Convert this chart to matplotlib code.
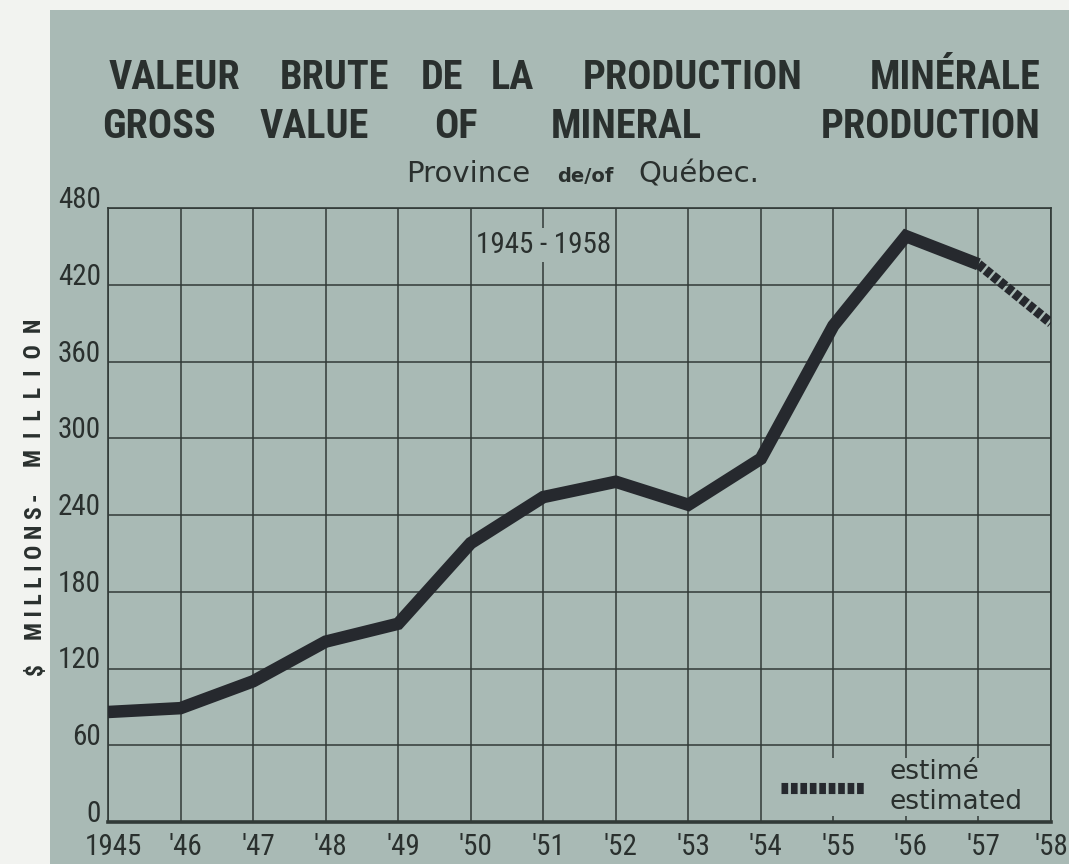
"""Gross value of mineral production, Province of Québec, 1945-1958."""

import matplotlib

matplotlib.use("Agg")
import matplotlib.pyplot as plt
from matplotlib import font_manager
from matplotlib.lines import Line2D
from matplotlib.patches import Rectangle
from matplotlib.transforms import ScaledTranslation

FIG_W_PX = 1069
FIG_H_PX = 864
DPI = 100

YEARS = [1945, 1946, 1947, 1948, 1949, 1950, 1951, 1952, 1953, 1954, 1955, 1956, 1957, 1958]
YEAR_LABELS = ["1945", "'46", "'47", "'48", "'49", "'50", "'51", "'52", "'53", "'54",
               "'55", "'56", "'57", "'58"]
# $ millions; 1957 -> 1958 is the estimated segment
VALUES = [86, 89, 110, 141, 155, 218, 254, 266, 248, 284, 388, 458, 436, 390]
LAST_ACTUAL_INDEX = 12
Y_TICKS = [0, 60, 120, 180, 240, 300, 360, 420, 480]

TITLE_FR_WORDS = ["VALEUR", "BRUTE", "DE", "LA", "PRODUCTION", "MINÉRALE"]
TITLE_EN_WORDS = ["GROSS", "VALUE", "OF", "MINERAL", "PRODUCTION"]
PERIOD_LABEL = "1945 - 1958"
LEGEND_LABEL = "estimé\nestimated"

# word centres (pixels from the left) for the two spread-out title lines
TITLE_FR_CENTERS = [174, 335, 442, 512, 693, 955]
TITLE_EN_CENTERS = [159, 314, 456, 626, 931]

PANEL = "#a9bab5"
MARGIN = "#f2f3f0"
INK = "#2a302e"
GRID = "#313a37"
LINE = "#26292e"


def pick_condensed_font() -> str:
    """Returns the first narrow sans family that is installed."""
    available = {f.name for f in font_manager.fontManager.ttflist}
    for name in ["Roboto Condensed", "Liberation Sans Narrow", "Open Sans Condensed"]:
        if name in available:
            return name
    return "DejaVu Sans"


COND = pick_condensed_font()


def px(x: float, y_top: float) -> tuple[float, float]:
    """Converts pixel coords (y measured from the top) to figure fractions."""
    return x / FIG_W_PX, 1 - y_top / FIG_H_PX


def draw_titles(fig: plt.Figure) -> None:
    """Draws the bilingual title, the subtitle and the rotated axis title."""
    for word, cx in zip(TITLE_FR_WORDS, TITLE_FR_CENTERS):
        fig.text(*px(cx, 78), word, ha="center", va="center", fontsize=29,
                 family=COND, weight="bold", color=INK)
    for word, cx in zip(TITLE_EN_WORDS, TITLE_EN_CENTERS):
        fig.text(*px(cx, 127), word, ha="center", va="center", fontsize=29,
                 family=COND, weight="bold", color=INK)

    fig.text(*px(530, 182), "Province", ha="right", va="baseline", fontsize=21,
             family="DejaVu Sans", color=INK)
    fig.text(*px(585, 182), "de/of", ha="center", va="baseline", fontsize=14,
             family="DejaVu Sans", weight="bold", color=INK)
    fig.text(*px(638, 182), "Québec.", ha="left", va="baseline", fontsize=21,
             family="DejaVu Sans", color=INK)

    # rotated axis title, word by word like the lettering guide
    for word, gap, cy in [("$", "", 669), ("MILLIONS", " ", 573), ("-", "", 497),
                          ("MILLION", "  ", 393)]:
        fig.text(*px(35, cy), gap.join(word), rotation=90, ha="center", va="center",
                 fontsize=17, family=COND, weight="bold", color=INK)


def draw_chart(fig: plt.Figure, ax: plt.Axes) -> None:
    """Draws the grid, the value line, the period box and the legend."""
    ax.set_facecolor("none")
    ax.set_xlim(YEARS[0], YEARS[-1])
    ax.set_ylim(Y_TICKS[0], Y_TICKS[-1])
    ax.set_xticks(YEARS)
    ax.set_xticklabels(YEAR_LABELS)
    ax.set_yticks(Y_TICKS)
    ax.grid(True, color=GRID, linewidth=1.1)
    ax.set_axisbelow(True)
    ax.tick_params(length=0, colors=INK)
    ax.tick_params(axis="x", pad=8, labelsize=21)
    ax.tick_params(axis="y", pad=5, labelsize=21)
    shift = ScaledTranslation(5 / DPI, 0, fig.dpi_scale_trans)
    x_labels = ax.get_xticklabels()
    for label in x_labels:
        label.set_family(COND)
    # nudge the labels right of their gridline, except the last one at the edge
    for label in x_labels[:-1]:
        label.set_transform(label.get_transform() + shift)
    for label in ax.get_yticklabels():
        label.set_family(COND)
        label.set_verticalalignment("baseline")

    for side, spine in ax.spines.items():
        spine.set_color(GRID)
        spine.set_linewidth(2.6 if side == "bottom" else 1.2)

    ax.plot(YEARS[:LAST_ACTUAL_INDEX + 1], VALUES[:LAST_ACTUAL_INDEX + 1], color=LINE,
            linewidth=9, solid_joinstyle="miter", solid_capstyle="butt", zorder=3)
    dash_style = (0, (0.7, 0.25))
    ax.plot(YEARS[LAST_ACTUAL_INDEX:], VALUES[LAST_ACTUAL_INDEX:], color=LINE,
            linewidth=7, linestyle=dash_style, dash_capstyle="butt", zorder=3)

    ax.text(1951, 451, PERIOD_LABEL, ha="center", va="center", fontsize=21, family=COND,
            color=INK, bbox=dict(facecolor=PANEL, edgecolor="none", pad=2), zorder=2)

    handle = Line2D([], [], color=LINE, linewidth=8, linestyle=(0, (0.6, 0.25)),
                    dash_capstyle="butt")
    legend = ax.legend([handle], [LEGEND_LABEL], loc="lower right",
                       bbox_to_anchor=(0.985, -0.012), frameon=True, facecolor=PANEL,
                       edgecolor="none", framealpha=1, fontsize=19, labelcolor=INK,
                       handlelength=3.2, handletextpad=0.9, borderpad=0.05,
                       labelspacing=0.1)
    # keep the bottom spine drawn over the legend box
    legend.set_zorder(2.2)


def main() -> None:
    fig = plt.figure(figsize=(FIG_W_PX / DPI, FIG_H_PX / DPI), dpi=DPI, facecolor=MARGIN)
    fig.patches.append(Rectangle((50 / FIG_W_PX, 0), 1, 1 - 10 / FIG_H_PX,
                                 transform=fig.transFigure, facecolor=PANEL,
                                 edgecolor="none", zorder=-1))
    ax = fig.add_axes([108 / FIG_W_PX, 42 / FIG_H_PX, 943 / FIG_W_PX, 614 / FIG_H_PX])
    draw_chart(fig, ax)
    draw_titles(fig)
    fig.savefig("out.png", dpi=DPI, facecolor=fig.get_facecolor())


if __name__ == "__main__":
    main()
